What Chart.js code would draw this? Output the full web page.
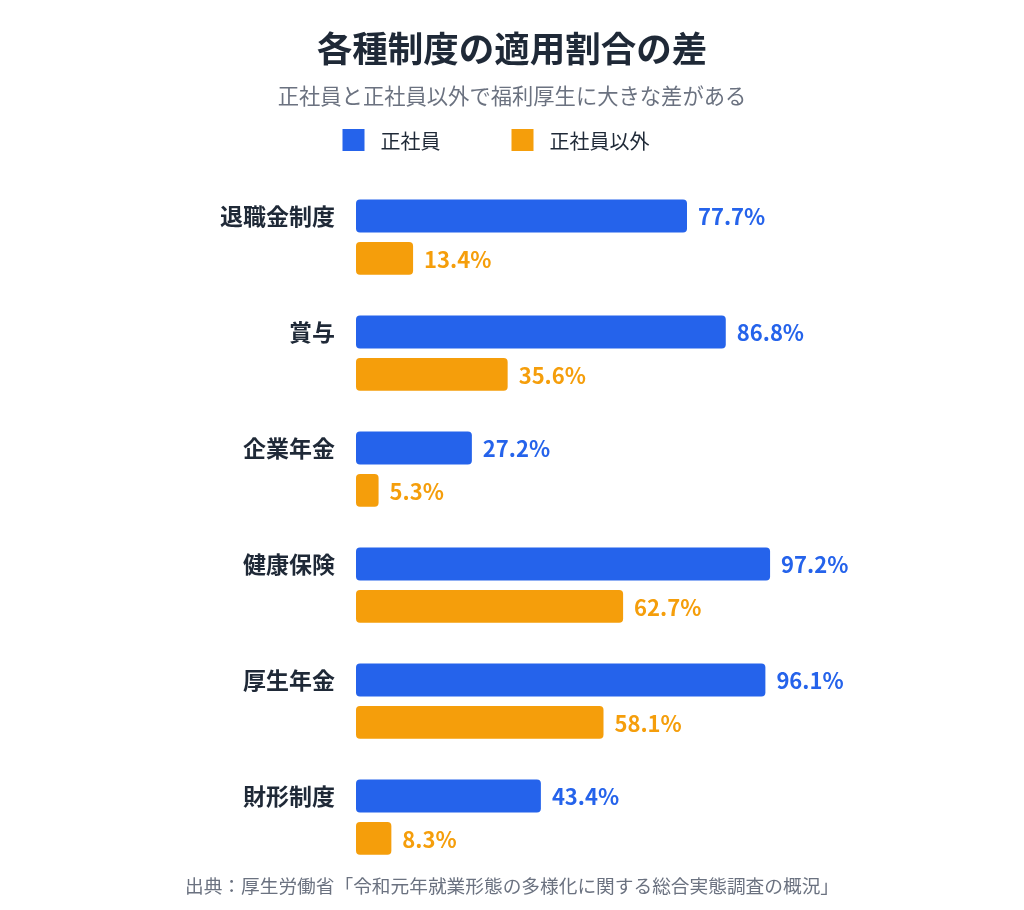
<!DOCTYPE html>
<html lang="ja">
<head>
<meta charset="utf-8">
<title>各種制度の適用割合の差</title>
<script src="https://cdn.jsdelivr.net/npm/chart.js@4.4.1/dist/chart.umd.min.js"></script>
<style>
  html, body { margin: 0; padding: 0; background: #ffffff; }
  #wrap { width: 1024px; height: 910px; position: relative; }
</style>
</head>
<body>
<div id="wrap"><canvas id="chart"></canvas></div>
<script>
// データ
const categories = ['退職金制度', '賞与', '企業年金', '健康保険', '厚生年金', '財形制度'];
const seriesNames = ['正社員', '正社員以外'];
const seiShain = [77.7, 86.8, 27.2, 97.2, 96.1, 43.4];
const hiSeiShain = [13.4, 35.6, 5.3, 62.7, 58.1, 8.3];
const titleText = '各種制度の適用割合の差';
const subtitleText = '正社員と正社員以外で福利厚生に大きな差がある';
const sourceText = '出典：厚生労働省「令和元年就業形態の多様化に関する総合実態調査の概況」';

const FONT = "'Noto Sans CJK JP', 'Noto Sans', sans-serif";
const BLUE = '#2563eb';
const ORANGE = '#f59e0b';

Chart.defaults.font.family = FONT;

// バーの右に値を描く
const valueLabels = {
  id: 'valueLabels',
  afterDatasetsDraw(chart) {
    const ctx = chart.ctx;
    ctx.save();
    ctx.font = `bold 22px ${FONT}`;
    ctx.textBaseline = 'middle';
    ctx.textAlign = 'left';
    chart.data.datasets.forEach((ds, i) => {
      const meta = chart.getDatasetMeta(i);
      ctx.fillStyle = ds.backgroundColor;
      meta.data.forEach((bar, j) => {
        ctx.fillText(ds.data[j].toFixed(1) + '%', bar.x + 11, bar.y + 1);
      });
    });
    ctx.restore();
  }
};

// 凡例と出典
const legendAndSource = {
  id: 'legendAndSource',
  afterDraw(chart) {
    const ctx = chart.ctx;
    ctx.save();
    ctx.font = `20px ${FONT}`;
    ctx.textBaseline = 'middle';
    ctx.textAlign = 'left';
    const box = 22, gap = 16, spacing = 71;
    const items = chart.data.datasets.map(ds => ({
      text: ds.label,
      color: ds.backgroundColor,
      w: ctx.measureText(ds.label).width
    }));
    const total = items.reduce((s, it) => s + box + gap + it.w, 0) + spacing * (items.length - 1);
    let x = chart.width / 2 - total / 2 - 16;
    const y = 140;
    items.forEach(it => {
      ctx.fillStyle = it.color;
      ctx.fillRect(x, y - box / 2, box, box);
      ctx.fillStyle = '#1f2937';
      ctx.fillText(it.text, x + box + gap, y + 1);
      x += box + gap + it.w + spacing;
    });

    ctx.font = `18.7px ${FONT}`;
    ctx.fillStyle = '#6b7280';
    ctx.textAlign = 'center';
    ctx.fillText(sourceText, chart.width / 2, 886);
    ctx.restore();
  }
};

new Chart(document.getElementById('chart'), {
  type: 'bar',
  data: {
    labels: categories,
    datasets: [
      { label: seriesNames[0], data: seiShain, backgroundColor: BLUE },
      { label: seriesNames[1], data: hiSeiShain, backgroundColor: ORANGE }
    ]
  },
  options: {
    indexAxis: 'y',
    responsive: true,
    maintainAspectRatio: false,
    animation: false,
    categoryPercentage: 0.73,
    barPercentage: 0.777,
    borderRadius: 4,
    borderSkipped: false,
    layout: { padding: { left: 0, right: 0, top: 0, bottom: 32 } },
    scales: {
      x: { display: false, min: 0, max: 100 },
      y: {
        grid: { display: false, drawTicks: false },
        border: { display: false },
        ticks: {
          color: '#1f2937',
          font: { size: 23, weight: 'bold' },
          padding: 21,
          labelOffset: -21
        },
        afterFit(scale) { scale.width = 356; }
      },
      // 右側の余白用（表示なし）
      yRight: {
        type: 'category',
        position: 'right',
        grid: { display: false, drawTicks: false },
        border: { display: false },
        ticks: { display: false },
        afterFit(scale) { scale.width = 242; }
      }
    },
    plugins: {
      legend: { display: false },
      tooltip: { enabled: false },
      title: {
        display: true,
        text: titleText,
        color: '#1f2937',
        font: { size: 35.5, weight: 'bold' },
        padding: { top: 27, bottom: 14 }
      },
      subtitle: {
        display: true,
        text: subtitleText,
        color: '#6b7280',
        font: { size: 21.3 },
        padding: { top: 0, bottom: 70 }
      }
    }
  },
  plugins: [valueLabels, legendAndSource]
});
</script>
</body>
</html>
